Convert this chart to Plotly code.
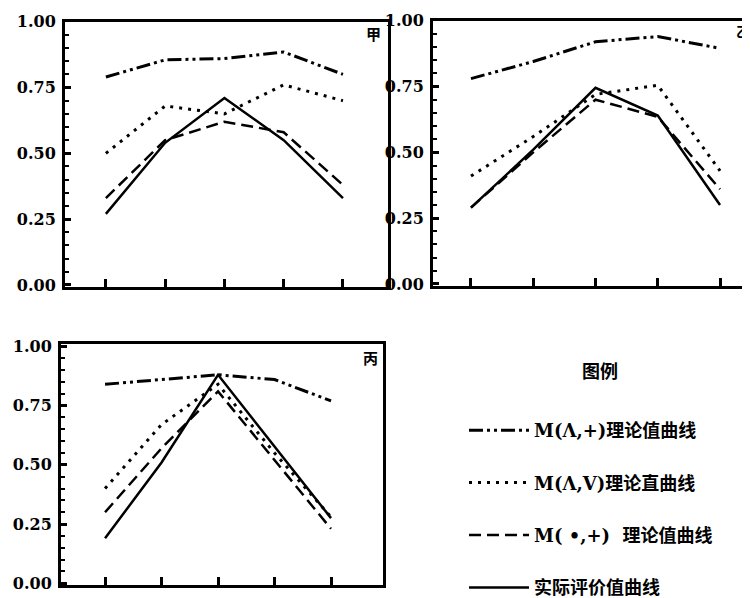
import plotly.graph_objects as go

# ---- data ----
samples = [1, 2, 3, 4, 5]
series_names = ["M(Λ,+)理论值曲线", "M(Λ,V)理论直曲线", "M( •,+)  理论值曲线", "实际评价值曲线"]

ma_plus_jia = [0.79, 0.855, 0.86, 0.885, 0.80]
mav_jia = [0.50, 0.68, 0.65, 0.76, 0.70]
mdot_jia = [0.33, 0.55, 0.62, 0.58, 0.38]
actual_jia = [0.27, 0.54, 0.71, 0.55, 0.33]

ma_plus_yi = [0.78, 0.845, 0.92, 0.94, 0.895]
mav_yi = [0.41, 0.56, 0.72, 0.755, 0.43]
mdot_yi = [0.29, 0.50, 0.70, 0.635, 0.36]
actual_yi = [0.29, 0.51, 0.745, 0.64, 0.30]

ma_plus_bing = [0.84, 0.86, 0.88, 0.86, 0.77]
mav_bing = [0.40, 0.67, 0.84, 0.55, 0.28]
mdot_bing = [0.30, 0.57, 0.81, 0.52, 0.23]
actual_bing = [0.19, 0.51, 0.88, 0.58, 0.275]

y_ticks = [0, 0.25, 0.5, 0.75, 1.0]
y_ticktext = ["0.00", "0.25", "0.50", "0.75", "1.00"]
panel_labels = ["甲", "乙", "丙"]

# ---- styles ----
styles = [
    dict(dash="14px,4px,3px,4px,3px,4px", width=3),
    dict(dash="3px,6px", width=3),
    dict(dash="12px,6px", width=2.5),
    dict(dash="solid", width=2.5),
]

panels = [
    ("x", "y", [ma_plus_jia, mav_jia, mdot_jia, actual_jia]),
    ("x2", "y2", [ma_plus_yi, mav_yi, mdot_yi, actual_yi]),
    ("x3", "y3", [ma_plus_bing, mav_bing, mdot_bing, actual_bing]),
]

fig = go.Figure()
for pi, (xa, ya, data) in enumerate(panels):
    for si, vals in enumerate(data):
        st = styles[si]
        fig.add_trace(go.Scatter(
            x=samples, y=vals, xaxis=xa, yaxis=ya, mode="lines",
            line=dict(color="black", width=st["width"], dash=st["dash"]),
            name=series_names[si], legendgroup=f"g{si}",
            showlegend=(pi == 0), hoverinfo="skip",
        ))

W, H = 750, 598
tick_font = dict(family="DejaVu Serif", size=16, color="black", weight="bold")


def xax(l, r, rng):
    return dict(domain=[l / W, r / W], range=rng, tickvals=samples, showticklabels=False,
                ticks="inside", ticklen=8, tickwidth=3, tickcolor="black",
                showline=True, linewidth=3, linecolor="black", mirror=True,
                showgrid=False, zeroline=False, fixedrange=True, automargin=False)


def yax(top, bot, rng, anchor):
    return dict(domain=[1 - bot / H, 1 - top / H], range=rng, tickvals=y_ticks,
                ticktext=y_ticktext, ticks="inside", ticklen=6, tickwidth=3,
                tickcolor="black", tickfont=tick_font, ticklabelstandoff=3,
                minor=dict(dtick=0.05, tick0=0, ticks="inside", ticklen=4, tickwidth=2,
                           tickcolor="black", showgrid=False),
                showline=True, linewidth=3, linecolor="black", mirror=True,
                showgrid=False, zeroline=False, anchor=anchor, fixedrange=True,
                automargin=False)


fig.update_layout(
    template="none",
    width=W, height=H, margin=dict(l=0, r=0, t=0, b=0),
    paper_bgcolor="white", plot_bgcolor="white",
    xaxis=dict(xax(57, 380, [0.31, 5.76]), anchor="y"),
    yaxis=yax(14, 285, [-0.007, 1.0], "x"),
    xaxis2=dict(xax(425, 750, [0.39, 5.61]), anchor="y2"),
    yaxis2=yax(13, 284, [-0.007, 1.0], "x2"),
    xaxis3=dict(xax(53, 375, [0.22, 5.92]), anchor="y3"),
    yaxis3=yax(343, 590, [-0.008, 1.012], "x3"),
    legend=dict(x=456 / W, xanchor="left", y=1 - 413 / H, yanchor="top",
                font=dict(family="DejaVu Serif, Noto Sans CJK SC", size=18, color="black",
                          weight="bold"),
                itemwidth=60, tracegroupgap=26, bgcolor="rgba(0,0,0,0)",
                itemclick=False, itemdoubleclick=False),
    showlegend=True,
)

cjk = dict(family="Noto Sans CJK SC", size=15, color="black", weight="bold")
annots = [
    dict(text=panel_labels[0], x=365 / W, y=1 - 26 / H, size=15),
    dict(text=panel_labels[1], x=735 / W, y=1 - 24 / H, size=14),
    dict(text=panel_labels[2], x=362 / W, y=1 - 357 / H, size=15),
]
for a in annots:
    f = dict(cjk, size=a.pop("size"))
    fig.add_annotation(xref="paper", yref="paper", xanchor="center", yanchor="middle",
                       showarrow=False, font=f, borderpad=0, **a)
fig.add_annotation(text="图例", xref="paper", yref="paper", x=592 / W, y=1 - 370 / H,
                   xanchor="center", yanchor="middle", showarrow=False, borderpad=0,
                   font=dict(family="Noto Sans CJK SC", size=18, color="black", weight="bold"))

fig.write_html("out.html")
